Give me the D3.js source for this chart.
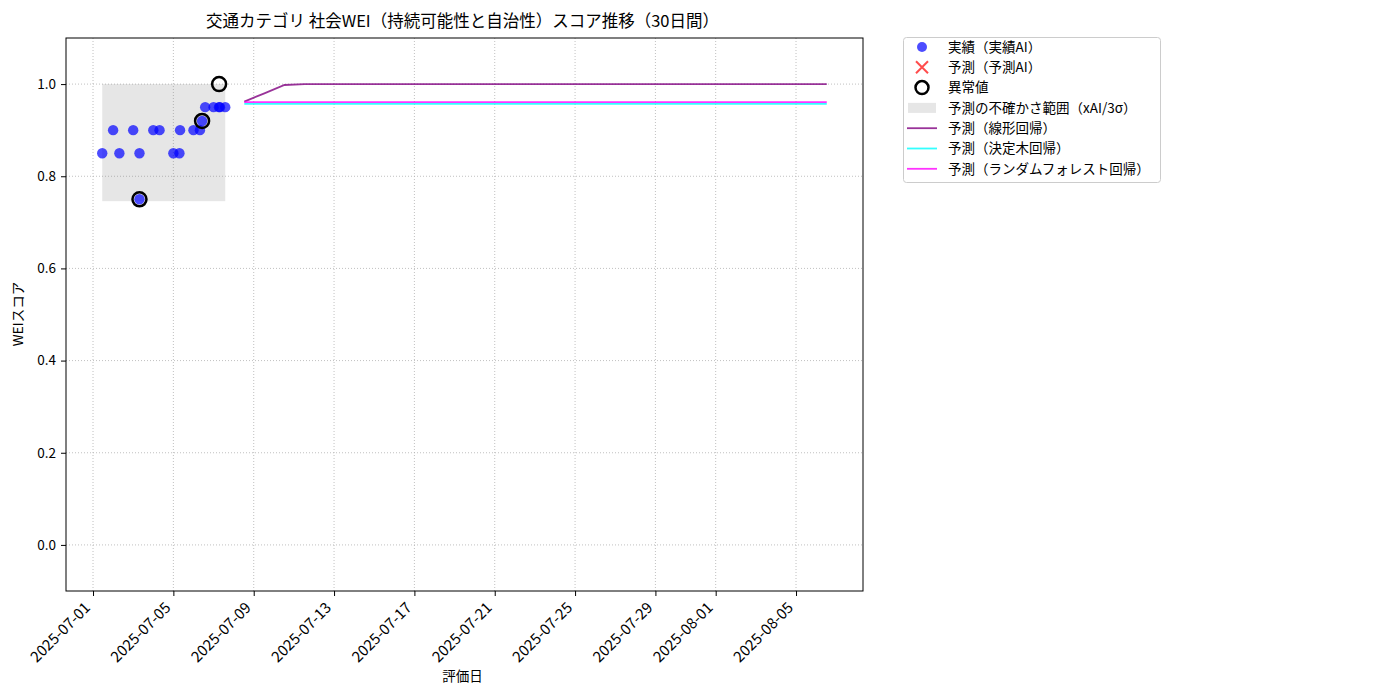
<!DOCTYPE html>
<html><head><meta charset="utf-8">
<script src="https://cdn.jsdelivr.net/npm/d3@7"></script>
<style>
body{margin:0;background:#fff;}
text{font-family:"Noto Sans CJK JP","Noto Sans",sans-serif;}
</style></head>
<body><svg id="c" width="1400" height="700"></svg>
<script>
const actualDates = ["2025-07-01T11:00","2025-07-02T00:00","2025-07-02T07:30","2025-07-03T00:00","2025-07-03T07:30","2025-07-03T07:30","2025-07-04T00:00","2025-07-04T07:30","2025-07-05T00:00","2025-07-05T07:15","2025-07-05T08:00","2025-07-06T00:00","2025-07-06T07:45","2025-07-06T10:20","2025-07-06T14:00","2025-07-07T00:00","2025-07-07T06:30","2025-07-07T07:40","2025-07-07T14:00"];
const actualValues = [0.85,0.90,0.85,0.90,0.85,0.75,0.90,0.90,0.85,0.85,0.90,0.90,0.90,0.92,0.95,0.95,0.95,0.95,0.95];
const anomalyDates = ["2025-07-03T07:30","2025-07-06T10:20","2025-07-07T06:40"];
const anomalyValues = [0.75,0.92,1.00];
const bandRange = ["2025-07-01T11:00","2025-07-07T14:00"];
const bandLow = 0.746, bandHigh = 1.0;
const forecastDates = ["2025-07-08T12:45","2025-07-09T12:45","2025-07-10T12:45","2025-07-11T12:45","2025-07-12T12:45","2025-07-13T12:45","2025-07-14T12:45","2025-07-15T12:45","2025-07-16T12:45","2025-07-17T12:45","2025-07-18T12:45","2025-07-19T12:45","2025-07-20T12:45","2025-07-21T12:45","2025-07-22T12:45","2025-07-23T12:45","2025-07-24T12:45","2025-07-25T12:45","2025-07-26T12:45","2025-07-27T12:45","2025-07-28T12:45","2025-07-29T12:45","2025-07-30T12:45","2025-07-31T12:45","2025-08-01T12:45","2025-08-02T12:45","2025-08-03T12:45","2025-08-04T12:45","2025-08-05T12:45","2025-08-06T12:45"];
const linearValues = [0.962,0.980,0.998,1.0,1.0,1.0,1.0,1.0,1.0,1.0,1.0,1.0,1.0,1.0,1.0,1.0,1.0,1.0,1.0,1.0,1.0,1.0,1.0,1.0,1.0,1.0,1.0,1.0,1.0,1.0];
const treeValues = [0.957,0.957,0.957,0.957,0.957,0.957,0.957,0.957,0.957,0.957,0.957,0.957,0.957,0.957,0.957,0.957,0.957,0.957,0.957,0.957,0.957,0.957,0.957,0.957,0.957,0.957,0.957,0.957,0.957,0.957];
const forestValues = [0.961,0.961,0.961,0.961,0.961,0.961,0.961,0.961,0.961,0.961,0.961,0.961,0.961,0.961,0.961,0.961,0.961,0.961,0.961,0.961,0.961,0.961,0.961,0.961,0.961,0.961,0.961,0.961,0.961,0.961];
const xTickLabels = ["2025-07-01","2025-07-05","2025-07-09","2025-07-13","2025-07-17","2025-07-21","2025-07-25","2025-07-29","2025-08-01","2025-08-05"];
const yTicks = [0.0,0.2,0.4,0.6,0.8,1.0];
const legendLabels = ["実績（実績AI）","予測（予測AI）","異常値","予測の不確かさ範囲（xAI/3σ）","予測（線形回帰）","予測（決定木回帰）","予測（ランダムフォレスト回帰）"];
const titleText = "交通カテゴリ 社会WEI（持続可能性と自治性）スコア推移（30日間）";

const P = d3.timeParse("%Y-%m-%dT%H:%M"), PD = d3.timeParse("%Y-%m-%d");
const L=66, T=38, W=797, H=553;
const svg = d3.select("#c");
const allDates = actualDates.concat(forecastDates).map(P);
const [d0,d1] = d3.extent(allDates);
const pad = (d1-d0)*0.05;
const x = d3.scaleTime().domain([new Date(+d0-pad), new Date(+d1+pad)]).range([L,L+W]);
const y = d3.scaleLinear().domain([-0.1,1.1]).range([T+H,T]);
const g = svg.append("g");

// grid
const xt = xTickLabels.map(PD);
g.selectAll(".gx").data(xt).join("line").attr("x1",d=>x(d)).attr("x2",d=>x(d)).attr("y1",T).attr("y2",T+H)
 .attr("stroke","#b0b0b0").attr("stroke-width",0.8).attr("stroke-dasharray","1,2");
g.selectAll(".gy").data(yTicks).join("line").attr("y1",d=>y(d)).attr("y2",d=>y(d)).attr("x1",L).attr("x2",L+W)
 .attr("stroke","#b0b0b0").attr("stroke-width",0.8).attr("stroke-dasharray","1,2");

// band
g.append("rect").attr("x",x(P(bandRange[0]))).attr("width",x(P(bandRange[1]))-x(P(bandRange[0])))
 .attr("y",y(bandHigh)).attr("height",y(bandLow)-y(bandHigh)).attr("fill","#808080").attr("fill-opacity",0.2);

// lines
const fd = forecastDates.map(P);
const line = vals => d3.line().x((d,i)=>x(fd[i])).y(d=>y(d))(vals);
g.append("path").attr("d",line(linearValues)).attr("fill","none").attr("stroke","#800080").attr("stroke-opacity",0.8).attr("stroke-width",1.8);
g.append("path").attr("d",line(treeValues)).attr("fill","none").attr("stroke","#00ffff").attr("stroke-opacity",0.8).attr("stroke-width",1.8);
g.append("path").attr("d",line(forestValues)).attr("fill","none").attr("stroke","#ff00ff").attr("stroke-opacity",0.8).attr("stroke-width",1.8);

// points
g.selectAll(".pt").data(actualValues).join("circle").attr("cx",(d,i)=>x(P(actualDates[i]))).attr("cy",d=>y(d)).attr("r",5.2)
 .attr("fill","blue").attr("fill-opacity",0.7);
g.selectAll(".an").data(anomalyValues).join("circle").attr("cx",(d,i)=>x(P(anomalyDates[i]))).attr("cy",d=>y(d)).attr("r",7)
 .attr("fill","none").attr("stroke","black").attr("stroke-width",2.5);

// frame
g.append("rect").attr("x",L).attr("y",T).attr("width",W).attr("height",H).attr("fill","none").attr("stroke","black").attr("stroke-width",1);

// axes
const xa = svg.append("g").attr("transform",`translate(0,${T+H})`)
 .call(d3.axisBottom(x).tickValues(xt).tickSize(5).tickFormat(d3.timeFormat("%Y-%m-%d")));
xa.select(".domain").remove();
xa.selectAll("text").style("font-size","15px").attr("fill","#000").attr("text-anchor","end")
 .attr("x",0).attr("y",0).attr("dx","0").attr("dy","0.35em")
 .attr("transform","translate(-6,14) rotate(-45)");
const ya = svg.append("g").attr("transform",`translate(${L},0)`)
 .call(d3.axisLeft(y).tickValues(yTicks).tickSize(5).tickFormat(d3.format(".1f")));
ya.select(".domain").remove();
ya.selectAll("text").style("font-size","13.5px").attr("fill","#000").attr("x",-10);

// labels
svg.append("text").attr("x",L+W/2-2).attr("y",27).attr("text-anchor","middle").style("font-size","16.5px").text(titleText);
svg.append("text").attr("x",L+W/2-2).attr("y",681).attr("text-anchor","middle").style("font-size","13.5px").text("評価日");
svg.append("text").attr("transform","translate(23,314) rotate(-90)").attr("text-anchor","middle").style("font-size","13.5px").text("WEIスコア");

// legend
const lg = svg.append("g");
lg.append("rect").attr("x",903.5).attr("y",37.5).attr("width",257).attr("height",145).attr("rx",3)
 .attr("fill","#fff").attr("stroke","#ccc");
const ly = i => 47 + i*20.3;
lg.append("circle").attr("cx",922).attr("cy",ly(0)).attr("r",5).attr("fill","blue").attr("fill-opacity",0.7);
lg.append("path").attr("d",`M${916},${ly(1)-6}L${928},${ly(1)+6}M${916},${ly(1)+6}L${928},${ly(1)-6}`)
 .attr("stroke","red").attr("stroke-opacity",0.7).attr("stroke-width",2);
lg.append("circle").attr("cx",922).attr("cy",ly(2)).attr("r",6.5).attr("fill","none").attr("stroke","black").attr("stroke-width",2.5);
lg.append("rect").attr("x",908).attr("y",ly(3)-5).attr("width",28).attr("height",10).attr("fill","#808080").attr("fill-opacity",0.2);
[["#800080",4],["#00ffff",5],["#ff00ff",6]].forEach(([c,i])=>{
 lg.append("line").attr("x1",907).attr("x2",937).attr("y1",ly(i)).attr("y2",ly(i)).attr("stroke",c).attr("stroke-opacity",0.8).attr("stroke-width",1.8);
});
lg.selectAll(".lt").data(legendLabels).join("text").attr("x",948).attr("y",(d,i)=>ly(i)+4.8).style("font-size","13.5px").text(d=>d);
</script></body></html>
